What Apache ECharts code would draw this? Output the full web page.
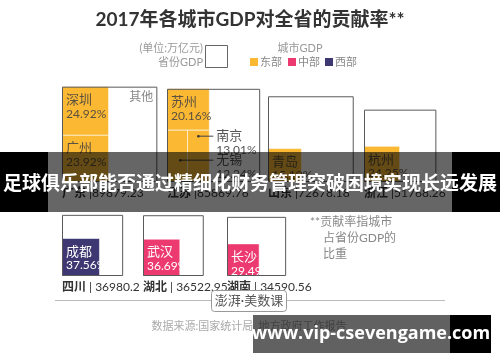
<!DOCTYPE html>
<html><head><meta charset="utf-8">
<script src="https://cdn.jsdelivr.net/npm/echarts@6/dist/echarts.min.js"></script>
<style>html,body{margin:0;padding:0;background:#fff}#c{width:500px;height:362px}</style>
</head><body><div id="c"></div>
<script>
// ---- data ----
const provinces = ['广东','江苏','山东','浙江','四川','湖北','湖南'];
const provinceGDP = [89879.23, 85869.76, 72678.18, 51768.26, 36980.2, 36522.95, 34590.56];
const provinceRegion = ['东部','东部','东部','东部','西部','中部','中部'];
const cityNames = [['深圳','广州'],['苏州','南京','无锡'],['青岛'],['杭州'],['成都'],['武汉'],['长沙']];
const cityShares = [[24.92,23.92],[20.16,13.01,12.24],[15.19],[24.25],[37.56],[36.69],[29.49]];
const regionNames = ['东部','中部','西部'];

// ---- layout / style ----
const regionColors = {'东部':'#FBB833','中部':'#EC3A70','西部':'#3D3871'};
const SCALE = 0.318;              // px per sqrt(亿元)
const GRID_PX = 100;
const gridLeft = [62,167,268,364,62,143,227];
const gridBase = [182,182,182,182,276,276,276];
const FONT = 'Lato, "Noto Sans CJK SC", sans-serif';
const sep = [' |',' |',' |',' |',' | ',' | ',' | '];

const grids = [], xAxes = [], yAxes = [], series = [];
provinces.forEach((p, i) => {
  grids.push({left: gridLeft[i], top: gridBase[i] - GRID_PX, width: GRID_PX, height: GRID_PX});
  xAxes.push({type:'value', gridIndex:i, min:0, max:GRID_PX/SCALE, show:false});
  yAxes.push({type:'value', gridIndex:i, min:0, max:GRID_PX/SCALE, show:false});
  const s = Math.sqrt(provinceGDP[i]);
  series.push({
    type:'custom', coordinateSystem:'cartesian2d', xAxisIndex:i, yAxisIndex:i,
    data:[[s, s]], clip:false, z:2,
    renderItem: function(params, api) {
      const side = api.value(0);
      const o = api.coord([0, 0]);
      const c = api.coord([side, side]);
      const px = c[0] - o[0];
      const L = o[0], B = o[1], T = c[1];
      const color = regionColors[provinceRegion[i]];
      const txtColor = provinceRegion[i] === '东部' ? '#5b5140' : '#ffffff';
      const children = [];
      children.push({type:'rect', shape:{x:L, y:T, width:px, height:px}, style:{fill:'#fff', stroke:null}});
      const shares = cityShares[i], names = cityNames[i];
      const rects = [];
      if (shares.length === 1) {
        const w = px * Math.sqrt(shares[0] / 100);
        rects.push({x:L, y:B - w, w:w, h:w});
      } else {
        const sum = shares.reduce((a,b)=>a+b, 0);
        const cw = px * sum / 100;
        const h1 = px * shares[0] / sum;
        rects.push({x:L, y:T, w:cw, h:h1});
        const rest = sum - shares[0];
        let xr = L + cw;
        for (let k = 1; k < shares.length; k++) {
          const w = cw * shares[k] / rest;
          rects.push({x:xr - w, y:T + h1, w:w, h:px - h1});
          xr -= w;
        }
      }
      rects.forEach(r => children.push({type:'rect', shape:{x:r.x, y:r.y, width:r.w, height:r.h},
        style:{fill:color, stroke:'rgba(255,255,255,0.55)', lineWidth:1}}));
      children.push({type:'rect', shape:{x:L+0.5, y:T+0.5, width:px-1, height:px-1}, style:{fill:null, stroke:'#5a5a5a', lineWidth:1}});
      let outsideIdx = 0;
      rects.forEach((r, k) => {
        const label = names[k], pct = shares[k].toFixed(2) + '%';
        if (r.w >= 30) {
          children.push({type:'text', style:{text:label, x:r.x+4, y:r.y+13, fill:txtColor, font:'13px '+FONT, textAlign:'left', textVerticalAlign:'middle'}});
          children.push({type:'text', style:{text:pct, x:r.x+4, y:r.y+27, fill:txtColor, font:'12px '+FONT, textAlign:'left', textVerticalAlign:'middle'}});
        } else {
          const dy = outsideIdx === 0 ? 6 : 30;
          const dx = outsideIdx === 0 ? r.w/2 : r.w*0.65;
          const dotX = r.x + dx, dotY = r.y + dy;
          const colRight = rects[0].x + rects[0].w;
          children.push({type:'circle', shape:{cx:dotX, cy:dotY, r:1.3}, style:{fill:'#333'}});
          children.push({type:'line', shape:{x1:dotX, y1:dotY, x2:colRight+4, y2:dotY}, style:{stroke:'#444', lineWidth:1}});
          children.push({type:'text', style:{text:label, x:colRight+7, y:dotY, fill:'#555', font:'13px '+FONT, textAlign:'left', textVerticalAlign:'middle'}});
          children.push({type:'text', style:{text:pct, x:colRight+7, y:dotY+14, fill:'#555', font:'12px '+FONT, textAlign:'left', textVerticalAlign:'middle'}});
          outsideIdx++;
        }
      });
      if (i === 0) {
        children.push({type:'text', style:{text:'其他', x:L+px-4, y:T+4, fill:'#888', font:'12px '+FONT, textAlign:'right', textVerticalAlign:'top'}});
      }
      children.push({type:'text', style:{
        text:'{b|' + provinces[i] + '}{n|' + sep[i] + provinceGDP[i] + '}',
        x:L, y:B+11, textAlign:'left', textVerticalAlign:'middle',
        rich:{b:{font:'bold 12px '+FONT, fill:'#333'}, n:{font:'12px '+FONT, fill:'#333'}}
      }});
      return {type:'group', children:children};
    }
  });
});

const graphics = [
  {type:'text', left:'center', top:10, z:10, style:{text:'2017年各城市GDP对全省的贡献率**', font:'bold 19px '+FONT, fill:'#333'}},
  {type:'text', x:203, y:48, z:10, style:{text:'(单位:万亿元)', font:'11px '+FONT, fill:'#999', textAlign:'right', textVerticalAlign:'middle'}},
  {type:'text', x:203, y:62, z:10, style:{text:'省份GDP', font:'11px '+FONT, fill:'#999', textAlign:'right', textVerticalAlign:'middle'}},
  {type:'rect', z:10, shape:{x:205.5, y:45.5, width:22, height:22}, style:{fill:'#fff', stroke:'#666', lineWidth:1}},
  {type:'text', x:300, y:48, z:10, style:{text:'城市GDP', font:'11px '+FONT, fill:'#999', textAlign:'center', textVerticalAlign:'middle'}},
  {type:'text', x:310, y:222, z:10, style:{text:'**贡献率指城市', font:'12px '+FONT, fill:'#888', textAlign:'left', textVerticalAlign:'middle'}},
  {type:'text', x:323, y:238, z:10, style:{text:'占省份GDP的', font:'12px '+FONT, fill:'#888', textAlign:'left', textVerticalAlign:'middle'}},
  {type:'text', x:323, y:254, z:10, style:{text:'比重', font:'12px '+FONT, fill:'#888', textAlign:'left', textVerticalAlign:'middle'}},
  {type:'line', z:10, shape:{x1:55, y1:300.5, x2:211, y2:300.5}, style:{stroke:'#bbb', lineWidth:1}},
  {type:'line', z:10, shape:{x1:287, y1:300.5, x2:445, y2:300.5}, style:{stroke:'#bbb', lineWidth:1}},
  {type:'rect', z:10, shape:{x:211.5, y:290.5, width:75, height:21, r:3}, style:{fill:'#fff', stroke:'#999', lineWidth:1}},
  {type:'text', x:249, y:301, z:11, style:{text:'澎湃·美数课', font:'13px '+FONT, fill:'#555', textAlign:'center', textVerticalAlign:'middle'}},
  {type:'text', x:249, y:326, z:10, style:{text:'数据来源:国家统计局, 地方政府工作报告', font:'11px '+FONT, fill:'#aaa', textAlign:'center', textVerticalAlign:'middle'}},
  // overlays
  {type:'rect', z:50, shape:{x:0, y:152, width:48, height:60}, style:{fill:'#000'}},
  {type:'rect', z:50, shape:{x:452, y:152, width:48, height:60}, style:{fill:'#000'}},
  {type:'rect', z:50, shape:{x:48, y:152, width:404, height:60}, style:{fill:'rgba(0,0,0,0.6)'}},
  {type:'text', x:250, y:183, z:51, style:{text:'足球俱乐部能否通过精细化财务管理突破困境实现长远发展', font:'bold 19px "Noto Sans CJK SC", sans-serif', fill:'#fff', textAlign:'center', textVerticalAlign:'middle'}},
  {type:'rect', z:50, shape:{x:253, y:315, width:197, height:38}, style:{fill:'rgba(0,0,0,0.62)'}},
  {type:'rect', z:50, shape:{x:450, y:315, width:41, height:38}, style:{fill:'#000'}},
  {type:'text', x:371, y:334, z:51, style:{text:'www.vip-csevengame.com', font:'bold 18px "Open Sans", "Noto Sans", sans-serif', fill:'#fff', textAlign:'center', textVerticalAlign:'middle'}}
];
const legX = [250, 288, 325];
regionNames.forEach((r, k) => {
  graphics.push({type:'rect', z:10, shape:{x:legX[k], y:58, width:8, height:8}, style:{fill:regionColors[r]}});
  graphics.push({type:'text', x:legX[k]+10, y:62, z:10, style:{text:r, font:'11px '+FONT, fill:'#888', textAlign:'left', textVerticalAlign:'middle'}});
});

const chart = echarts.init(document.getElementById('c'), null, {renderer:'canvas'});
chart.setOption({animation:false, grid:grids, xAxis:xAxes, yAxis:yAxes, series:series, graphic:graphics});
</script></body></html>
